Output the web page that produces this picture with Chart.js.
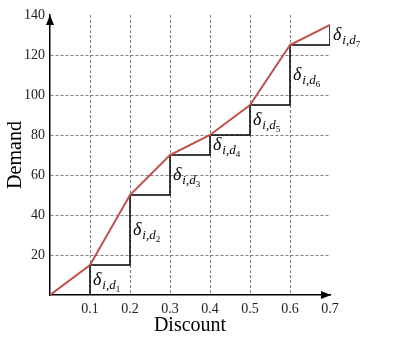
<!DOCTYPE html>
<html>
<head>
<meta charset="utf-8">
<script src="https://cdn.jsdelivr.net/npm/chart.js@4"></script>
<style>
  html, body { margin: 0; padding: 0; background: #fff; }
  #wrap { width: 407px; height: 340px; }
</style>
</head>
<body>
<div id="wrap"><canvas id="demandChart" width="407" height="340"></canvas></div>
<script>
// Chart data
const discounts = [0, 0.1, 0.2, 0.3, 0.4, 0.5, 0.6, 0.7];
const demand = [0, 15, 50, 70, 80, 95, 125, 135];
const xTickValues = [0, 0.1, 0.2, 0.3, 0.4, 0.5, 0.6, 0.7];
const yTickValues = [0, 20, 40, 60, 80, 100, 120, 140];
const stepIndex = ["1", "2", "3", "4", "5", "6", "7"];

const serif = "'Liberation Serif', 'Times New Roman', serif";

// Red curve points
let curve = discounts.map((x, i) => ({ x: x, y: demand[i] }));

// Black staircase: start at the x axis below the first step
let steps = [{ x: discounts[1], y: 0 }];
for (let i = 1; i < discounts.length; i++) {
    steps.push({ x: discounts[i], y: demand[i] });
}

function near(a, b) {
    return Math.abs(a - b) < 1e-9;
}

// Draws delta labels next to each vertical step and the axis arrows
const extrasPlugin = {
    id: "extras",
    afterDraw(chart) {
        let ctx = chart.ctx;
        let xs = chart.scales.x;
        let ys = chart.scales.y;

        ctx.save();
        ctx.fillStyle = "#000";
        ctx.textBaseline = "middle";
        ctx.textAlign = "left";
        for (let i = 1; i < discounts.length; i++) {
            let px = xs.getPixelForValue(discounts[i]) + 3;
            let py = ys.getPixelForValue((demand[i - 1] + demand[i]) / 2);
            ctx.font = "italic 18px " + serif;
            ctx.fillText("δ", px, py);
            px += ctx.measureText("δ").width + 1;
            ctx.font = "italic 13px " + serif;
            ctx.fillText("i,d", px, py + 6);
            px += ctx.measureText("i,d").width;
            ctx.font = "9px " + serif;
            ctx.fillText(stepIndex[i - 1], px, py + 10);
        }

        // axis arrows
        let left = chart.chartArea.left;
        let bottom = chart.chartArea.bottom;
        let top = chart.chartArea.top;
        let right = chart.chartArea.right;
        ctx.beginPath();
        ctx.moveTo(left, top);
        ctx.lineTo(left - 4, top + 10);
        ctx.lineTo(left + 4, top + 10);
        ctx.closePath();
        ctx.fill();
        ctx.beginPath();
        ctx.moveTo(right + 1, bottom);
        ctx.lineTo(right - 9, bottom - 4);
        ctx.lineTo(right - 9, bottom + 4);
        ctx.closePath();
        ctx.fill();
        ctx.restore();
    }
};

let ctx = document.getElementById("demandChart").getContext("2d");

new Chart(ctx, {
    type: "line",
    data: {
        datasets: [
            {
                label: "Demand",
                data: curve,
                borderColor: "#c0504d",
                borderWidth: 2,
                pointRadius: 0,
                tension: 0
            },
            {
                label: "Steps",
                data: steps,
                borderColor: "#000",
                borderWidth: 1.5,
                pointRadius: 0,
                stepped: "before"
            }
        ]
    },
    options: {
        responsive: false,
        animation: false,
        layout: { padding: { left: 0, top: 15, right: 77, bottom: 0 } },
        plugins: {
            legend: { display: false },
            tooltip: { enabled: false }
        },
        scales: {
            x: {
                type: "linear",
                min: 0,
                max: 0.7,
                afterFit(scale) { scale.height = 45; },
                afterBuildTicks(scale) {
                    scale.ticks = xTickValues.map(v => ({ value: v }));
                },
                border: { color: "#000", width: 1.5, dash: [3, 2] },
                grid: {
                    drawTicks: false,
                    color: c => (c.tick.value === 0 || near(c.tick.value, 0.7)) ? "rgba(0,0,0,0)" : "#808080"
                },
                ticks: {
                    padding: 6,
                    color: "#222",
                    font: { family: serif, size: 14 },
                    callback: v => v === 0 ? "" : v.toFixed(1)
                },
                title: {
                    display: true,
                    text: "Discount",
                    color: "#000",
                    font: { family: serif, size: 20 },
                    padding: { top: 0, bottom: 2 }
                }
            },
            y: {
                type: "linear",
                min: 0,
                max: 140,
                afterFit(scale) { scale.width = 50; },
                afterBuildTicks(scale) {
                    scale.ticks = yTickValues.map(v => ({ value: v }));
                },
                border: { color: "#000", width: 1.5, dash: [3, 2] },
                grid: {
                    drawTicks: false,
                    color: c => (c.tick.value === 0 || c.tick.value === 140) ? "rgba(0,0,0,0)" : "#808080"
                },
                ticks: {
                    padding: 5,
                    color: "#222",
                    font: { family: serif, size: 14 },
                    callback: v => v === 0 ? "" : String(v)
                },
                title: {
                    display: true,
                    text: "Demand",
                    color: "#000",
                    font: { family: serif, size: 20 },
                    padding: { top: 4, bottom: 0 }
                }
            }
        }
    },
    plugins: [extrasPlugin]
});
</script>
</body>
</html>
